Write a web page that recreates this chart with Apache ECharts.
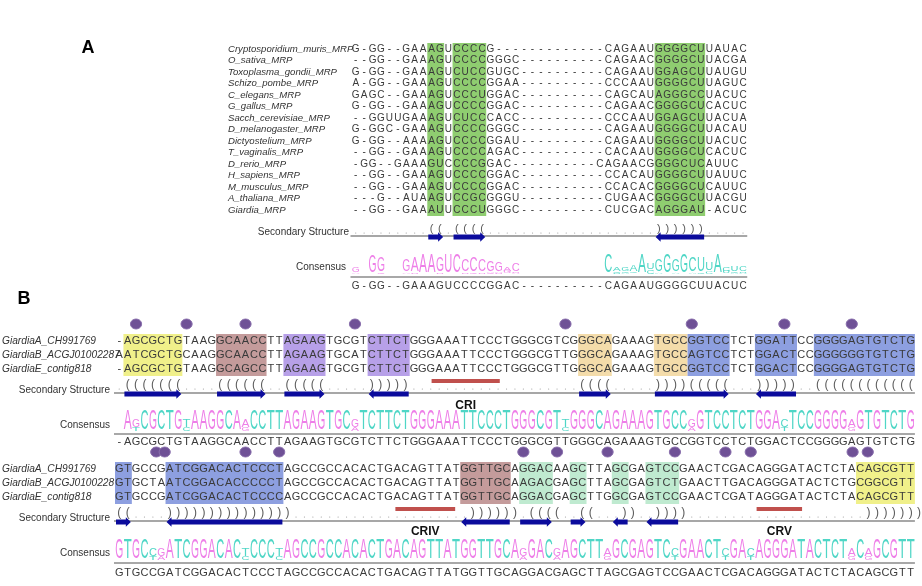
<!DOCTYPE html>
<html><head><meta charset="utf-8">
<script src="https://cdn.jsdelivr.net/npm/echarts@6.0.0/dist/echarts.min.js"></script>
<style>html,body{margin:0;padding:0;background:#fff;}#chart{width:922px;height:586px;}</style>
</head><body><div id="chart"></div>
<script>
// ================= DATA =================
const aNames = ["Cryptosporidium_muris_MRP","O_sativa_MRP","Toxoplasma_gondii_MRP","Schizo_pombe_MRP","C_elegans_MRP","G_gallus_MRP","Sacch_cerevisiae_MRP","D_melanogaster_MRP","Dictyostelium_MRP","T_vaginalis_MRP","D_rerio_MRP","H_sapiens_MRP","M_musculus_MRP","A_thaliana_MRP","Giardia_MRP"];
const aSeqs = [
  "G-GG--GAAAGUCCCCG-------------CAGAAUGGGGCUUAUAC",
  "--GG--GAAAGUCCCCGGGC----------CAGAACGGGGCUUACGA",
  "G-GG--GAAAGUCUCCGUGC----------CAGAAUGGAGCUUAUGU",
  "A-GG--GAAAGUCCCCGGAA----------CCCAAUGGGGCUUAGUC",
  "GAGC--GAAAGUCCCUGGAC----------CAGCAUAGGGCCUACUC",
  "G-GG--GAAAGUCCCCGGAC----------CAGAACGGGGCUCACUC",
  "--GGUUGAAAGUCUCCCACC----------CCCAAUGGAGCUUACUA",
  "G-GGC-GAAAGUCCCCGGGC----------CAGAAUGGGGCUUACAU",
  "G-GG--AAAAGUCCCCGGAU----------CAGAAUGGGGCUUACUC",
  "--GG--GAAAGUCCCCAGAC----------CACAAUGGGGCUCACUC",
  "--GG--GAAAGUCCCCGGAC----------CAGAACGGGGCUCAUUC",
  "--GG--GAAAGUCCCCGGAC----------CCACAUGGGGCUUAUUC",
  "--GG--GAAAGUCCCCGGAC----------CCACACGGGGCUCAUUC",
  "---G--AUAAGUCCGCGGGU----------CUGAACGGGGCUUACGU",
  "--GG--GAAAUUCCCUGGGC----------CUCGACAGGGAU-ACUC"
];
const aStructure = ".........((.((((....................)))))).....";
const aConsensus = "G-GG--GAAAGUCCCCGGAC----------CAGAAUGGGGCUUACUC";
const aArrows = [[9,10,1],[12,15,1],[36,41,-1]];
const aHighlights = [[9,10,"green"],[12,15,"green"],[36,41,"green"]];

const bNames = ["GiardiaA_CH991769","GiardiaB_ACGJ01002287","GiardiaE_contig818"];
const b1Seqs = [
  "-AGCGCTGTAAGGCAACCTTAGAAGTGCGTCTTCTGGGAAATTCCCTGGGCGTCGGGCAGAAAGTGCCGGTCCTCTGGATTCCGGGGAGTGTCTG",
  "AATCGCTGCAAGGCAACCTTAGAAGTGCATCTTCTGGGAAATTCCCTGGGCGTTGGGCAGAAAGTGCCAGTCCTCTGGACTCCGGGGGGTGTCTG",
  "-AGCGCTGTAAGGCAGCCTTAGAAGTGCGTCTTCTGGGAAATTCCCTGGGCGTTGGGCAGAAAGTGCCGGTCCTCTGGACTCCGGGGAGTGTCTG"
];
const b1Structure = ".(((((((....((((((..(((((.....)))))....................((((.....))))(((((...)))))..((((((((((((";
const b1Consensus = "-AGCGCTGTAAGGCAACCTTAGAAGTGCGTCTTCTGGGAAATTCCCTGGGCGTTGGGCAGAAAGTGCCGGTCCTCTGGACTCCGGGGAGTGTCTG";
const b1Arrows = [[1,7,1],[12,17,1],[20,24,1],[30,34,-1],[55,58,1],[64,72,1],[76,80,-1]];
const b1Highlights = [[1,7,"yellow"],[12,17,"rose"],[20,24,"violet"],[30,34,"violet"],[55,58,"tan"],[64,67,"tan"],[68,72,"blue"],[76,80,"blue"],[83,94,"blue"]];
const b1Variable = [2,8,15,28,53,68,79,87];
const b1Regions = [[37.6,45.7,"CRI"]];

const b2Seqs = [
  "GTGCCGATCGGACACTCCCTAGCCGCCACACTGACAGTTATGGTTGCAGGACAAGCTTAGCGAGTCCGAACTCGACAGGGATACTCTACAGCGTT",
  "GTGCTAATCGGACACCCCCTAGCCGCCACACTGACAGTTATGGTTGCAAGACGAGCTTAGCGAGTCTGAACTTGACAGGGATACTCTGCGGCGTT",
  "GTGCCGATCGGACACTCCCCAGCCGCCACACTGACAGTTATGGTTGCAGGACGAGCTTGGCGAGTCCGAACTCGATAGGGATACTCTACAGCGTT"
];
const b2Structure = "((....))))))))))))))).....................)))))).((((..((...))..)))).....................)))))))";
const b2Consensus = "GTGCCGATCGGACACTCCCTAGCCGCCACACTGACAGTTATGGTTGCAGGACGAGCTTAGCGAGTCCGAACTCGACAGGGATACTCTACAGCGTT";
const b2Arrows = [[0,1,1],[6,19,-1],[41,46,-1],[48,51,1],[54,55,1],[59,60,-1],[63,66,-1]];
const b2Highlights = [[0,1,"blue"],[6,19,"blue"],[41,46,"rose"],[48,51,"mint"],[54,55,"mint"],[59,60,"mint"],[63,66,"mint"],[88,94,"yellow"]];
const b2Variable = [4.4,5.4,15,19,48,52,58,66,72,75,87.1,88.9];
const b2Regions = [[33.3,40.4,"CRIV"],[76.2,81.6,"CRV"]];

// ================= STYLE / LAYOUT =================
const STEP = 8.42;
const HL = {green:'#8fcd70', yellow:'#f0f08a', rose:'#c49b9b', violet:'#b7a0e8', tan:'#f4dcaa', blue:'#8d9fe0', mint:'#bfead0'};
const PINK = '#ee7fe8', TEAL = '#4fd6c6';
const LOGO_COL = {A:PINK, G:PINK, C:TEAL, T:TEAL, U:TEAL};
const SANS = "'Liberation Sans', Arial, sans-serif";
const NARROW = "'Liberation Sans Narrow', 'Liberation Sans', Arial, sans-serif";
// the D_rerio row is drawn one column to the left in the figure
const A_ROW_SHIFT = {10: -1};
const L = {
  A:  {gi:0, left:351.5, n:47, rowY0:49, rowDy:11.5, hlTop:43, hlBot:216, structY:229, lineY:236, arrowY:237, logoBase:274, logoH:19, consLineY:277, consY:286, font:10, shift:A_ROW_SHIFT,
       logoColor:(ch, c) => c < 25 ? PINK : TEAL},
  B1: {gi:1, left:115, n:95, rowY0:341, rowDy:14, hlTop:334, hlBot:376, dotY:324, barY:381, labelY:406, structY:385, lineY:393, arrowY:394, logoBase:431, logoH:20, consLineY:434, consY:442, font:11, shift:{},
       logoColor:(ch) => LOGO_COL[ch] || '#888'},
  B2: {gi:2, left:115, n:95, rowY0:469, rowDy:14, hlTop:462, hlBot:504, dotY:452, barY:509, labelY:532, structY:513, lineY:521, arrowY:522, logoBase:560, logoH:20, consLineY:563, consY:573, font:11, shift:{},
       logoColor:(ch) => LOGO_COL[ch] || '#888'}
};

const mctx = document.createElement('canvas').getContext('2d');
function glyphW(ch, font){ mctx.font = font; return mctx.measureText(ch).width; }

function txt(x, y, t, font, fill, align){
  return {type:'text', x:x, y:y, style:{text:t, font:font, fill:fill, align:align||'center', verticalAlign:'middle', textAlign:align||'center', textVerticalAlign:'middle'}};
}

function blockSeries(cfg, seqs, structure, consensus, arrows, highlights, variable, regions){
  const gi = cfg.gi, S = [];
  const base = {type:'custom', xAxisIndex:gi, yAxisIndex:gi, clip:false, silent:true, animation:false};
  // highlight boxes
  S.push(Object.assign({}, base, {z:1,
    data: highlights.map(h => [h[0], h[1] + 1]),
    renderItem: (p, api) => {
      const a = api.coord([api.value(0), cfg.hlTop]), b = api.coord([api.value(1), cfg.hlBot]);
      return {type:'rect', shape:{x:a[0], y:a[1], width:b[0]-a[0], height:b[1]-a[1]}, style:{fill:HL[highlights[p.dataIndex][2]]}};
    }}));
  // sequence letters
  const seqItems = [];
  seqs.forEach((s, r) => { const sh = cfg.shift[r] || 0; for (let c = 0; c < s.length; c++) if (c + sh >= 0) seqItems.push([c + sh + 0.5, cfg.rowY0 + r * cfg.rowDy, r, c]); });
  S.push(Object.assign({}, base, {z:3, data: seqItems,
    renderItem: (p, api) => {
      const pt = api.coord([api.value(0), api.value(1)]);
      const it = seqItems[p.dataIndex];
      return txt(pt[0], pt[1], seqs[it[2]][it[3]], cfg.font + 'px ' + SANS, '#3a3a3a');
    }}));
  // structure characters
  const stItems = [];
  for (let c = 0; c < structure.length; c++) stItems.push([c + 0.5, cfg.structY]);
  S.push(Object.assign({}, base, {z:3, data: stItems,
    renderItem: (p, api) => {
      const pt = api.coord([api.value(0), api.value(1)]);
      const ch = structure[p.dataIndex];
      if (ch === '.') return {type:'circle', shape:{cx:pt[0], cy:pt[1] + 4, r:0.6}, style:{fill:'#9a9a9a'}};
      return txt(pt[0], pt[1], ch, (cfg.font + 1) + 'px ' + SANS, '#5a5a5a');
    }}));
  // baseline under structure + consensus underline
  const lines = [[0, cfg.n, cfg.lineY, 1.3, '#8a8a8a'], [0, cfg.n, cfg.consLineY, 2, '#a8a8a8']];
  S.push(Object.assign({}, base, {z:2, data: lines.map(d => [d[0], d[1], d[2]]),
    renderItem: (p, api) => {
      const a = api.coord([api.value(0), api.value(2)]), b = api.coord([api.value(1), api.value(2)]);
      const d = lines[p.dataIndex];
      return {type:'line', shape:{x1:a[0] - 1, y1:a[1], x2:b[0], y2:b[1]}, style:{stroke:d[4], lineWidth:d[3]}};
    }}));
  // arrows
  S.push(Object.assign({}, base, {z:4, data: arrows.map(a => [a[0], a[1] + 1, a[2]]),
    renderItem: (p, api) => {
      const a = api.coord([api.value(0), cfg.arrowY]), b = api.coord([api.value(1), cfg.arrowY]);
      const dir = api.value(2), y = a[1], bh = 2.6, hh = 4.8, hl = 6;
      let pts;
      if (dir > 0) pts = [[a[0]+1, y-bh],[b[0]-hl, y-bh],[b[0]-hl, y-hh],[b[0]-1, y],[b[0]-hl, y+hh],[b[0]-hl, y+bh],[a[0]+1, y+bh]];
      else pts = [[b[0]-1, y-bh],[a[0]+hl, y-bh],[a[0]+hl, y-hh],[a[0]+1, y],[a[0]+hl, y+hh],[a[0]+hl, y+bh],[b[0]-1, y+bh]];
      return {type:'polygon', shape:{points:pts}, style:{fill:'#0b0b9c'}};
    }}));
  // consensus sequence
  const csItems = [];
  for (let c = 0; c < consensus.length; c++) csItems.push([c + 0.5, cfg.consY]);
  S.push(Object.assign({}, base, {z:3, data: csItems,
    renderItem: (p, api) => {
      const pt = api.coord([api.value(0), api.value(1)]);
      return txt(pt[0], pt[1], consensus[p.dataIndex], cfg.font + 'px ' + SANS, '#3a3a3a');
    }}));
  // sequence logo (letter heights from column frequencies of the alignment)
  const logo = [];
  for (let c = 0; c < consensus.length; c++) {
    if (consensus[c] === '-') continue;
    const cnt = {}; let ng = 0;
    seqs.forEach(s => { const ch = s[c]; if (ch && ch !== '-' && ch !== ' ') { cnt[ch] = (cnt[ch] || 0) + 1; ng++; } });
    if (!ng) continue;
    let H = 0; Object.keys(cnt).forEach(k => { const q = cnt[k] / ng; H -= q * Math.log2(q); });
    const total = (2 - H) / 2 * ng / seqs.length;
    const ents = Object.keys(cnt).sort((x, y) => cnt[x] - cnt[y]);
    let acc = 0;
    ents.forEach(k => { const h = cnt[k] / ng * total; logo.push([c + 0.5, acc, h, k, c]); acc += h; });
  }
  const LF = 20, CAP = 0.716 * LF;
  S.push(Object.assign({}, base, {z:3, data: logo.map(l => [l[0], l[1], l[2]]),
    renderItem: (p, api) => {
      const l = logo[p.dataIndex];
      const hpx = api.value(2) * cfg.logoH;
      if (hpx < 0.6) return null;
      const yb = cfg.logoBase - api.value(1) * cfg.logoH;
      const pt = api.coord([api.value(0), yb - hpx / 2]);
      const font = LF + 'px ' + NARROW;
      const sx = (STEP * 0.95) / glyphW(l[3], font);
      const el = txt(0, 0, l[3], font, cfg.logoColor(l[3], l[4]));
      el.x = pt[0]; el.y = pt[1]; el.scaleX = sx; el.scaleY = hpx / CAP;
      return el;
    }}));
  // variable-position markers
  if (variable) S.push(Object.assign({}, base, {z:4, data: variable.map(v => [v + 0.5, cfg.dotY]),
    renderItem: (p, api) => {
      const pt = api.coord([api.value(0), api.value(1)]);
      return {type:'ellipse', shape:{cx:pt[0], cy:pt[1], rx:5.6, ry:5}, style:{fill:'#6f5196', stroke:'#8a70ad', lineWidth:1}};
    }}));
  // conserved regions (bars + labels)
  if (regions) S.push(Object.assign({}, base, {z:4, data: regions.map(r => [r[0], r[1]]),
    renderItem: (p, api) => {
      const a = api.coord([api.value(0), cfg.barY]), b = api.coord([api.value(1), cfg.labelY]);
      return {type:'group', children:[
        {type:'rect', shape:{x:a[0], y:a[1] - 2, width:b[0] - a[0], height:4}, style:{fill:'#c0504d'}},
        txt((a[0] + b[0]) / 2, b[1], regions[p.dataIndex][2], 'bold 12px ' + SANS, '#111')
      ]};
    }}));
  return S;
}

const grids = [], xAxes = [], yAxes = [];
[L.A, L.B1, L.B2].forEach((cfg, i) => {
  grids.push({left:cfg.left, top:0, width:cfg.n * STEP, height:586, containLabel:false, show:false});
  xAxes.push({type:'value', gridIndex:i, min:0, max:cfg.n, show:false});
  yAxes.push({type:'value', gridIndex:i, min:0, max:586, inverse:true, show:false});
});

const series = [].concat(
  blockSeries(L.A, aSeqs, aStructure, aConsensus, aArrows, aHighlights, null, null),
  blockSeries(L.B1, b1Seqs, b1Structure, b1Consensus, b1Arrows, b1Highlights, b1Variable, b1Regions),
  blockSeries(L.B2, b2Seqs, b2Structure, b2Consensus, b2Arrows, b2Highlights, b2Variable, b2Regions)
);

const gfx = [];
function gtext(x, y, t, font, fill, align) { gfx.push({type:'text', x:x, y:y, silent:true, style:{text:t, font:font, fill:fill, textAlign:align || 'left', textVerticalAlign:'middle', align:align || 'left', verticalAlign:'middle'}}); }
gtext(88, 48, 'A', 'bold 18px ' + SANS, '#000', 'center');
gtext(24, 299, 'B', 'bold 18px ' + SANS, '#000', 'center');
aNames.forEach((n, i) => gtext(228, L.A.rowY0 + i * L.A.rowDy, n, 'italic 9.6px ' + SANS, '#333'));
gtext(349, 232, 'Secondary Structure', '10px ' + SANS, '#333', 'right');
gtext(346, 267, 'Consensus', '10px ' + SANS, '#333', 'right');
bNames.forEach((n, i) => { gtext(2, L.B1.rowY0 + i * L.B1.rowDy, n, 'italic 10.2px ' + SANS, '#333'); gtext(2, L.B2.rowY0 + i * L.B2.rowDy, n, 'italic 10.2px ' + SANS, '#333'); });
gtext(110, 390, 'Secondary Structure', '10px ' + SANS, '#333', 'right');
gtext(110, 518, 'Secondary Structure', '10px ' + SANS, '#333', 'right');
gtext(110, 425, 'Consensus', '10px ' + SANS, '#333', 'right');
gtext(110, 553, 'Consensus', '10px ' + SANS, '#333', 'right');

const chart = echarts.init(document.getElementById('chart'), null, {renderer:'canvas'});
chart.setOption({animation:false, backgroundColor:'#fff', grid:grids, xAxis:xAxes, yAxis:yAxes, series:series, graphic:{elements:gfx}});
</script></body></html>
